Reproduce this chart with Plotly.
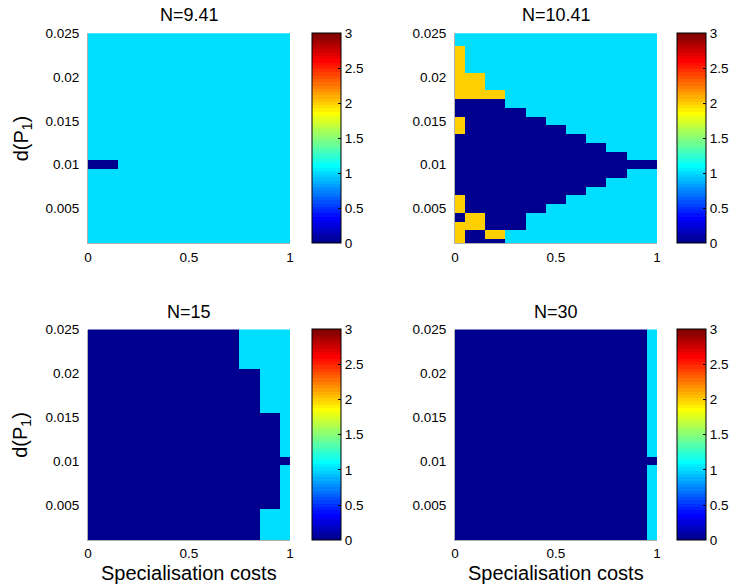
import math
import numpy as np
import plotly.graph_objects as go

# ---------------- data ----------------
panel_titles = ["N=9.41", "N=10.41", "N=15", "N=30"]
spec_costs = [0.0, 0.1, 0.2, 0.3, 0.4, 0.5, 0.6, 0.7, 0.8, 0.9, 1.0]
d_p1 = [0.025, 0.024, 0.023, 0.022, 0.021, 0.020, 0.019, 0.018, 0.017, 0.016,
        0.015, 0.014, 0.013, 0.012, 0.011, 0.010, 0.009, 0.008, 0.007, 0.006,
        0.005, 0.004, 0.003, 0.002, 0.001]
x_tick_vals = [0, 0.5, 1]
x_tick_text = ["0", "0.5", "1"]
y_tick_vals = [0.005, 0.01, 0.015, 0.02, 0.025]
y_tick_text = ["0.005", "0.01", "0.015", "0.02", "0.025"]
cbar_tick_vals = [0, 0.5, 1, 1.5, 2, 2.5, 3]
cbar_tick_text = ["0", "0.5", "1", "1.5", "2", "2.5", "3"]

# rows from d(P1)=0.025 (top) to 0.001 (bottom); columns = spec_costs
z_n941 = [
    [1, 1, 1, 1, 1, 1, 1, 1, 1, 1, 1],
    [1, 1, 1, 1, 1, 1, 1, 1, 1, 1, 1],
    [1, 1, 1, 1, 1, 1, 1, 1, 1, 1, 1],
    [1, 1, 1, 1, 1, 1, 1, 1, 1, 1, 1],
    [1, 1, 1, 1, 1, 1, 1, 1, 1, 1, 1],
    [1, 1, 1, 1, 1, 1, 1, 1, 1, 1, 1],
    [1, 1, 1, 1, 1, 1, 1, 1, 1, 1, 1],
    [1, 1, 1, 1, 1, 1, 1, 1, 1, 1, 1],
    [1, 1, 1, 1, 1, 1, 1, 1, 1, 1, 1],
    [1, 1, 1, 1, 1, 1, 1, 1, 1, 1, 1],
    [1, 1, 1, 1, 1, 1, 1, 1, 1, 1, 1],
    [1, 1, 1, 1, 1, 1, 1, 1, 1, 1, 1],
    [1, 1, 1, 1, 1, 1, 1, 1, 1, 1, 1],
    [1, 1, 1, 1, 1, 1, 1, 1, 1, 1, 1],
    [1, 1, 1, 1, 1, 1, 1, 1, 1, 1, 1],
    [0, 0, 1, 1, 1, 1, 1, 1, 1, 1, 1],
    [1, 1, 1, 1, 1, 1, 1, 1, 1, 1, 1],
    [1, 1, 1, 1, 1, 1, 1, 1, 1, 1, 1],
    [1, 1, 1, 1, 1, 1, 1, 1, 1, 1, 1],
    [1, 1, 1, 1, 1, 1, 1, 1, 1, 1, 1],
    [1, 1, 1, 1, 1, 1, 1, 1, 1, 1, 1],
    [1, 1, 1, 1, 1, 1, 1, 1, 1, 1, 1],
    [1, 1, 1, 1, 1, 1, 1, 1, 1, 1, 1],
    [1, 1, 1, 1, 1, 1, 1, 1, 1, 1, 1],
    [1, 1, 1, 1, 1, 1, 1, 1, 1, 1, 1],
]

z_n1041 = [
    [1, 1, 1, 1, 1, 1, 1, 1, 1, 1, 1],
    [1, 1, 1, 1, 1, 1, 1, 1, 1, 1, 1],
    [2, 1, 1, 1, 1, 1, 1, 1, 1, 1, 1],
    [2, 1, 1, 1, 1, 1, 1, 1, 1, 1, 1],
    [2, 1, 1, 1, 1, 1, 1, 1, 1, 1, 1],
    [2, 2, 1, 1, 1, 1, 1, 1, 1, 1, 1],
    [2, 2, 1, 1, 1, 1, 1, 1, 1, 1, 1],
    [2, 2, 2, 1, 1, 1, 1, 1, 1, 1, 1],
    [0, 0, 0, 1, 1, 1, 1, 1, 1, 1, 1],
    [0, 0, 0, 0, 1, 1, 1, 1, 1, 1, 1],
    [2, 0, 0, 0, 0, 1, 1, 1, 1, 1, 1],
    [2, 0, 0, 0, 0, 0, 1, 1, 1, 1, 1],
    [0, 0, 0, 0, 0, 0, 0, 1, 1, 1, 1],
    [0, 0, 0, 0, 0, 0, 0, 0, 1, 1, 1],
    [0, 0, 0, 0, 0, 0, 0, 0, 0, 1, 1],
    [0, 0, 0, 0, 0, 0, 0, 0, 0, 0, 0],
    [0, 0, 0, 0, 0, 0, 0, 0, 0, 1, 1],
    [0, 0, 0, 0, 0, 0, 0, 0, 1, 1, 1],
    [0, 0, 0, 0, 0, 0, 0, 1, 1, 1, 1],
    [2, 0, 0, 0, 0, 0, 1, 1, 1, 1, 1],
    [2, 0, 0, 0, 0, 1, 1, 1, 1, 1, 1],
    [0, 2, 0, 0, 1, 1, 1, 1, 1, 1, 1],
    [2, 2, 0, 0, 1, 1, 1, 1, 1, 1, 1],
    [2, 0, 2, 1, 1, 1, 1, 1, 1, 1, 1],
    [2, 0, 0, 1, 1, 1, 1, 1, 1, 1, 1],
]

z_n15 = [
    [0, 0, 0, 0, 0, 0, 0, 0, 1, 1, 1],
    [0, 0, 0, 0, 0, 0, 0, 0, 1, 1, 1],
    [0, 0, 0, 0, 0, 0, 0, 0, 1, 1, 1],
    [0, 0, 0, 0, 0, 0, 0, 0, 1, 1, 1],
    [0, 0, 0, 0, 0, 0, 0, 0, 1, 1, 1],
    [0, 0, 0, 0, 0, 0, 0, 0, 0, 1, 1],
    [0, 0, 0, 0, 0, 0, 0, 0, 0, 1, 1],
    [0, 0, 0, 0, 0, 0, 0, 0, 0, 1, 1],
    [0, 0, 0, 0, 0, 0, 0, 0, 0, 1, 1],
    [0, 0, 0, 0, 0, 0, 0, 0, 0, 1, 1],
    [0, 0, 0, 0, 0, 0, 0, 0, 0, 0, 1],
    [0, 0, 0, 0, 0, 0, 0, 0, 0, 0, 1],
    [0, 0, 0, 0, 0, 0, 0, 0, 0, 0, 1],
    [0, 0, 0, 0, 0, 0, 0, 0, 0, 0, 1],
    [0, 0, 0, 0, 0, 0, 0, 0, 0, 0, 1],
    [0, 0, 0, 0, 0, 0, 0, 0, 0, 0, 0],
    [0, 0, 0, 0, 0, 0, 0, 0, 0, 0, 1],
    [0, 0, 0, 0, 0, 0, 0, 0, 0, 0, 1],
    [0, 0, 0, 0, 0, 0, 0, 0, 0, 0, 1],
    [0, 0, 0, 0, 0, 0, 0, 0, 0, 0, 1],
    [0, 0, 0, 0, 0, 0, 0, 0, 0, 0, 1],
    [0, 0, 0, 0, 0, 0, 0, 0, 0, 1, 1],
    [0, 0, 0, 0, 0, 0, 0, 0, 0, 1, 1],
    [0, 0, 0, 0, 0, 0, 0, 0, 0, 1, 1],
    [0, 0, 0, 0, 0, 0, 0, 0, 0, 1, 1],
]

z_n30 = [
    [0, 0, 0, 0, 0, 0, 0, 0, 0, 0, 1],
    [0, 0, 0, 0, 0, 0, 0, 0, 0, 0, 1],
    [0, 0, 0, 0, 0, 0, 0, 0, 0, 0, 1],
    [0, 0, 0, 0, 0, 0, 0, 0, 0, 0, 1],
    [0, 0, 0, 0, 0, 0, 0, 0, 0, 0, 1],
    [0, 0, 0, 0, 0, 0, 0, 0, 0, 0, 1],
    [0, 0, 0, 0, 0, 0, 0, 0, 0, 0, 1],
    [0, 0, 0, 0, 0, 0, 0, 0, 0, 0, 1],
    [0, 0, 0, 0, 0, 0, 0, 0, 0, 0, 1],
    [0, 0, 0, 0, 0, 0, 0, 0, 0, 0, 1],
    [0, 0, 0, 0, 0, 0, 0, 0, 0, 0, 1],
    [0, 0, 0, 0, 0, 0, 0, 0, 0, 0, 1],
    [0, 0, 0, 0, 0, 0, 0, 0, 0, 0, 1],
    [0, 0, 0, 0, 0, 0, 0, 0, 0, 0, 1],
    [0, 0, 0, 0, 0, 0, 0, 0, 0, 0, 1],
    [0, 0, 0, 0, 0, 0, 0, 0, 0, 0, 0],
    [0, 0, 0, 0, 0, 0, 0, 0, 0, 0, 1],
    [0, 0, 0, 0, 0, 0, 0, 0, 0, 0, 1],
    [0, 0, 0, 0, 0, 0, 0, 0, 0, 0, 1],
    [0, 0, 0, 0, 0, 0, 0, 0, 0, 0, 1],
    [0, 0, 0, 0, 0, 0, 0, 0, 0, 0, 1],
    [0, 0, 0, 0, 0, 0, 0, 0, 0, 0, 1],
    [0, 0, 0, 0, 0, 0, 0, 0, 0, 0, 1],
    [0, 0, 0, 0, 0, 0, 0, 0, 0, 0, 1],
    [0, 0, 0, 0, 0, 0, 0, 0, 0, 0, 1],
]

panel_values = [z_n941, z_n1041, z_n15, z_n30]
x_label = "Specialisation costs"
y_label = "d(P<sub>1</sub>)"

# ---------------- colour map (MATLAB jet, 64 levels) ----------------
def jet(m=64):
    n = math.ceil(m / 4)
    u = np.concatenate([np.arange(1, n + 1) / n, np.ones(n - 1), np.arange(n, 0, -1) / n])
    g = math.ceil(n / 2) - (1 if m % 4 == 1 else 0) + np.arange(1, len(u) + 1)
    r = g + n
    b = g - n
    J = np.zeros((m, 3))
    for ch, idx in enumerate([r, g, b]):
        for k, val in zip(idx, u):
            if 1 <= k <= m:
                J[k - 1, ch] = val
    return J

J = jet(64)
colorscale = []
for i in range(64):
    c = "rgb(%d,%d,%d)" % tuple(int(round(v * 255)) for v in J[i])
    colorscale.append([i / 64, c])
    colorscale.append([(i + 1) / 64, c])

# ---------------- layout geometry (pixels in the 731x584 window) ----------------
W, H = 731, 584
FONT = "Liberation Sans, Arial, Helvetica, sans-serif"
col_x = [(88, 290), (455, 657)]
row_y = [(33.3, 243.3), (329.5, 540)]
cbar_left = [312, 677]

def px_x(p):
    return p / W

def px_y(p):
    return 1 - p / H

fig = go.Figure()
layout = dict(
    width=W, height=H,
    margin=dict(l=0, r=0, t=0, b=0, autoexpand=False),
    paper_bgcolor="white", plot_bgcolor="white",
    font=dict(family=FONT, color="black"),
    showlegend=False,
)
annotations = []

for i, (title, z) in enumerate(zip(panel_titles, panel_values)):
    r, c = divmod(i, 2)
    (x0, x1), (y0, y1) = col_x[c], row_y[r]
    ax = "" if i == 0 else str(i + 1)
    fig.add_trace(go.Heatmap(
        x=spec_costs, y=d_p1, z=z,
        zmin=0, zmax=3, colorscale=colorscale, zsmooth=False,
        xaxis="x" + ax, yaxis="y" + ax,
        colorbar=dict(
            x=px_x(cbar_left[c]), xanchor="left", xpad=0,
            y=px_y((y0 + y1) / 2), yanchor="middle", ypad=0,
            len=(y1 - y0) / H, lenmode="fraction",
            thickness=29, thicknessmode="pixels",
            outlinewidth=1, outlinecolor="black",
            tickvals=cbar_tick_vals, ticktext=cbar_tick_text,
            ticks="inside", ticklen=3, tickcolor="black", tickwidth=1,
            tickfont=dict(size=13.5, family=FONT, color="black"),
        ),
    ))
    layout["xaxis" + ax] = dict(
        domain=[px_x(x0), px_x(x1)], range=[0, 1], anchor="y" + ax,
        tickvals=x_tick_vals, ticktext=x_tick_text,
        ticks="outside", ticklen=1, tickcolor="rgba(0,0,0,0)",
        tickfont=dict(size=13.5, family=FONT, color="black"),
        showgrid=False, zeroline=False, showline=True,
        linecolor="#b0b0b0", linewidth=1, fixedrange=True, automargin=False,
    )
    layout["yaxis" + ax] = dict(
        domain=[px_y(y1), px_y(y0)], range=[0.001, 0.025], anchor="x" + ax,
        tickvals=y_tick_vals, ticktext=y_tick_text,
        ticks="outside", ticklen=5, tickcolor="rgba(0,0,0,0)",
        tickfont=dict(size=13.5, family=FONT, color="black"),
        showgrid=False, zeroline=False, showline=True,
        linecolor="#b0b0b0", linewidth=1, fixedrange=True, automargin=False,
    )
    annotations.append(dict(
        text=title, xref="paper", yref="paper",
        x=px_x((x0 + x1) / 2), y=px_y(y0 - 18), xanchor="center", yanchor="middle",
        showarrow=False, font=dict(size=18, family=FONT, color="black"),
    ))
    if c == 0:
        annotations.append(dict(
            text=y_label, xref="paper", yref="paper",
            x=px_x(22), y=px_y((y0 + y1) / 2), xanchor="center", yanchor="middle",
            textangle=-90, showarrow=False,
            font=dict(size=20, family=FONT, color="black"),
        ))
    if r == 1:
        annotations.append(dict(
            text=x_label, xref="paper", yref="paper",
            x=px_x((x0 + x1) / 2), y=px_y(573), xanchor="center", yanchor="middle",
            showarrow=False, font=dict(size=20, family=FONT, color="black"),
        ))

layout["annotations"] = annotations
fig.update_layout(**layout)
fig.write_html(
    "out.html",
    config={"displayModeBar": False, "staticPlot": True},
    post_script="document.body.style.margin='0';document.body.style.overflow='hidden';",
)
